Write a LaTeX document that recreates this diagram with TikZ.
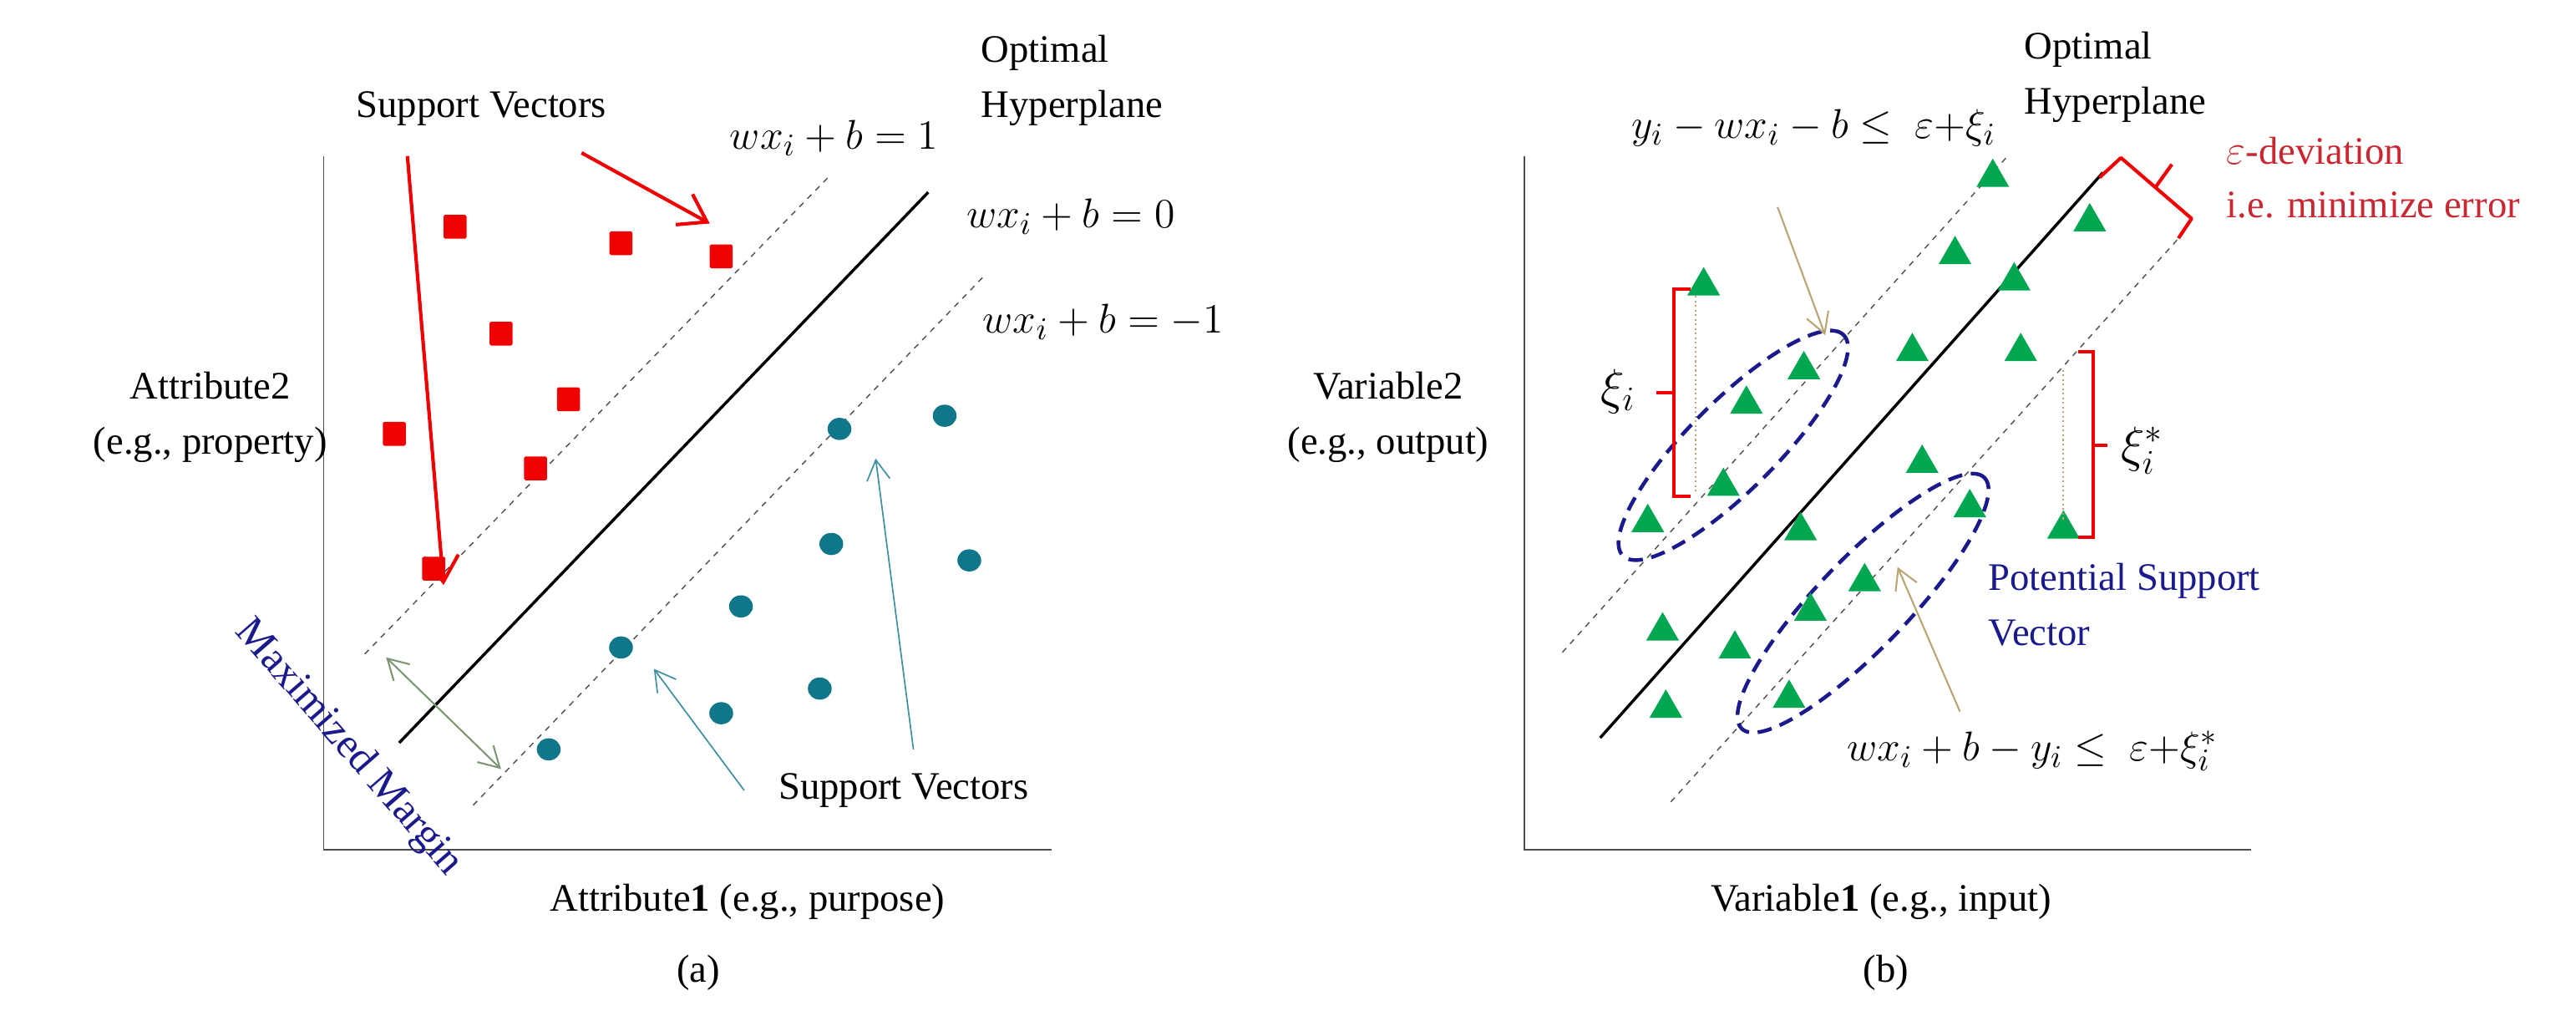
\documentclass[tikz,border=0pt]{standalone}
\usepackage{fontspec}
\setmainfont{Liberation Serif}
\usetikzlibrary{arrows.meta,shapes.geometric}
\definecolor{sqred}{RGB}{240,0,0}
\definecolor{teal2}{RGB}{16,118,138}
\definecolor{trigreen}{RGB}{0,166,80}
\definecolor{navy2}{RGB}{26,26,140}
\definecolor{tan2}{RGB}{185,165,115}
\definecolor{mgreen}{RGB}{125,150,115}
\definecolor{devred}{RGB}{200,40,50}
\begin{document}
\begin{tikzpicture}[x=0.02cm,y=-0.02cm,
  txt/.style={font=\fontsize{13.5}{15}\selectfont,inner sep=0pt},
  mth/.style={font=\fontsize{15}{17}\selectfont,inner sep=0pt},
  sq/.style={fill=sqred,minimum width=0.28cm,minimum height=0.29cm,inner sep=0pt,rounded corners=0.5pt},
  dot/.style={ellipse,fill=teal2,minimum width=0.29cm,minimum height=0.27cm,inner sep=0pt},
  tri/.style={regular polygon,regular polygon sides=3,fill=trigreen,minimum size=0.46cm,inner sep=0pt},
  axis/.style={draw=black!70,line width=0.5pt},
  hyp/.style={draw=black,line width=1pt},
  marg/.style={draw=black!70,dashed,dash pattern=on 2pt off 2pt,line width=0.4pt},
  redarr/.style={draw=sqred,line width=1.2pt,-{Straight Barb[length=9pt,width=12pt,line width=1.2pt]}},
  tealarr/.style={draw=teal2!80,line width=0.5pt,-{Straight Barb[length=7pt,width=8pt]}},
  tanarr/.style={draw=tan2,line width=0.6pt,-{Straight Barb[length=7pt,width=8pt]}},
  ell/.style={draw=navy2,line width=1.3pt,dashed,dash pattern=on 5pt off 3pt},
  brace/.style={draw=sqred,line width=1.2pt},
  dotl/.style={draw=tan2,line width=0.6pt,densely dotted}]
\useasboundingbox (0,0) rectangle (1568,618);
% ---------------- panel (a) ----------------
\coordinate (aO) at (197,517);
\coordinate (aT) at (197,95);
\coordinate (aR) at (640,517);
\draw[axis] (aT) -- (aO) -- (aR);
\coordinate (h0a) at (243,452); \coordinate (h0b) at (565,117);
\coordinate (h1a) at (222,398); \coordinate (h1b) at (504,108);
\coordinate (h2a) at (288,490); \coordinate (h2b) at (598,169);
\draw[hyp] (h0a) -- (h0b);
\draw[marg] (h1a) -- (h1b);
\draw[marg] (h2a) -- (h2b);
\foreach \n/\p in {s1/{(277,138)},s2/{(378,148)},s3/{(439,156)},s4/{(305,203)},s5/{(346,243)},s6/{(240,264)},s7/{(326,285)},s8/{(264,346)}}
  \node[sq] (\n) at \p {};
\foreach \n/\p in {c1/{(511,261)},c2/{(575,253)},c3/{(506,331)},c4/{(590,341)},c5/{(451,369)},c6/{(378,394)},c7/{(499,419)},c8/{(439,434)},c9/{(334,456)}}
  \node[dot] (\n) at \p {};
\node[txt] (svA) at (293,66) {Support Vectors};
\coordinate (ra1) at (248,95); \coordinate (ra1e) at (270,356);
\coordinate (ra2) at (354,93); \coordinate (ra2e) at (432,136);
\draw[redarr] (ra1) -- (ra1e);
\draw[redarr] (ra2) -- (ra2e);
\node[mth,anchor=west] (eq1) at (444,84) {$wx_i + b = 1$};
\node[mth,anchor=west] (eq0) at (588,132) {$wx_i + b = 0$};
\node[mth,anchor=west] (eqm) at (598,196) {$wx_i + b = -1$};
\node[txt,anchor=west,align=left] (optA) at (597,49) {Optimal\\[4pt]Hyperplane};
\node[txt,align=center] (att2) at (128,254) {Attribute2\\[4pt](e.g., property)};
\node[txt] (att1) at (455,549) {Attribute\textbf{1} (e.g., purpose)};
\node[txt] (labA) at (425,592) {(a)};
\node[txt] (svB) at (550,481) {Support Vectors};
\coordinate (ta1) at (453,481); \coordinate (ta1e) at (398,407);
\coordinate (ta2) at (556,456); \coordinate (ta2e) at (533,279);
\draw[tealarr] (ta1) -- (ta1e);
\draw[tealarr] (ta2) -- (ta2e);
\coordinate (mA) at (235,400); \coordinate (mB) at (305,468);
\draw[draw=mgreen,line width=0.6pt,{Straight Barb[length=7pt,width=8pt]}-{Straight Barb[length=7pt,width=8pt]}] (mA) -- (mB);
\node[txt,text=navy2,rotate=-49,font=\fontsize{14.5}{16}\selectfont] (mm) at (212,455) {Maximized Margin};
% ---------------- panel (b) ----------------
\coordinate (bO) at (928,517);
\coordinate (bT) at (928,95);
\coordinate (bR) at (1370,517);
\draw[axis] (bT) -- (bO) -- (bR);
\coordinate (g0a) at (974,449); \coordinate (g0b) at (1280,105);
\coordinate (g1a) at (951,397); \coordinate (g1b) at (1222,95);
\coordinate (g2a) at (1017,488); \coordinate (g2b) at (1327,144);
\draw[hyp] (g0a) -- (g0b);
\draw[marg] (g1a) -- (g1b);
\draw[marg] (g2a) -- (g2b);
\node[ell,ellipse,minimum width=3.8cm,minimum height=1.08cm,rotate=45] (e1) at (1055,271) {};
\node[ell,ellipse,minimum width=4.25cm,minimum height=1.1cm,rotate=46] (e2) at (1134,367) {};
\foreach \n/\p in {t1/{(1213,108)},t2/{(1272,135)},t3/{(1190,155)},t4/{(1226,171)},t5/{(1037,174)},t6/{(1164,214)},t7/{(1230,214)},t8/{(1098,225)},t9/{(1063,246)},t10/{(1170,282)},t11/{(1049,296)},t12/{(1199,309)},t13/{(1003,318)},t14/{(1096,323)},t15/{(1256,322)},t16/{(1135,354)},t17/{(1102,372)},t18/{(1012,384)},t19/{(1056,395)},t20/{(1089,425)},t21/{(1014,431)}}
  \node[tri] (\n) at \p {};
% xi_i bracket
\coordinate (x1a) at (1029,176); \coordinate (x1b) at (1019,176);
\coordinate (x1c) at (1019,302); \coordinate (x1d) at (1029,302);
\coordinate (x1m) at (1019,239); \coordinate (x1t) at (1008,239);
\draw[brace] (x1a) -- (x1b) -- (x1c) -- (x1d);
\draw[brace] (x1m) -- (x1t);
\coordinate (d1a) at (1032,180); \coordinate (d1b) at (1032,300);
\draw[dotl] (d1a) -- (d1b);
\node[mth,font=\fontsize{18}{20}\selectfont] (xi) at (985,238) {$\xi_i$};
% xi_i^* bracket
\coordinate (x2a) at (1265,214); \coordinate (x2b) at (1274,214);
\coordinate (x2c) at (1274,327); \coordinate (x2d) at (1265,327);
\coordinate (x2m) at (1274,271); \coordinate (x2t) at (1283,271);
\draw[brace] (x2a) -- (x2b) -- (x2c) -- (x2d);
\draw[brace] (x2m) -- (x2t);
\coordinate (d2a) at (1256,225); \coordinate (d2b) at (1256,316);
\draw[dotl] (d2a) -- (d2b);
\node[mth,font=\fontsize{18}{20}\selectfont] (xis) at (1304,274) {$\xi_i^*$};
% epsilon bracket
\coordinate (ep1) at (1278,108); \coordinate (ep2) at (1291,96);
\coordinate (ep3) at (1334,133); \coordinate (ep4) at (1326,145);
\coordinate (epm) at (1312,114); \coordinate (ept) at (1322,100);
\draw[brace,line join=round] (ep1) -- (ep2) -- (ep3) -- (ep4);
\draw[brace] (epm) -- (ept);
\node[txt,anchor=west,text=devred] (dev1) at (1355,92) {$\varepsilon$-deviation};
\node[txt,anchor=west,text=devred] (dev2) at (1355,125) {i.e. minimize error};
\node[txt,anchor=west,align=left] (optB) at (1232,47) {Optimal\\[4pt]Hyperplane};
\node[mth,font=\fontsize{15.5}{17}\selectfont] (eqT) at (1104,78) {$y_i - wx_i - b \leq\ \varepsilon{+}\xi_i$};
\node[mth,font=\fontsize{15.5}{17}\selectfont] (eqB) at (1237,457) {$wx_i + b - y_i \leq\ \varepsilon{+}\xi_i^*$};
\coordinate (k1) at (1082,126); \coordinate (k1e) at (1111,204);
\coordinate (k2) at (1193,433); \coordinate (k2e) at (1155,345);
\draw[tanarr] (k1) -- (k1e);
\draw[tanarr] (k2) -- (k2e);
\node[txt,anchor=west,align=left,text=navy2] (psv) at (1210,368) {Potential Support\\[4pt]Vector};
\node[txt,align=center] (var2) at (845,254) {Variable2\\[4pt](e.g., output)};
\node[txt] (var1) at (1145,549) {Variable\textbf{1} (e.g., input)};
\node[txt] (labB) at (1148,592) {(b)};
\end{tikzpicture}
\end{document}
